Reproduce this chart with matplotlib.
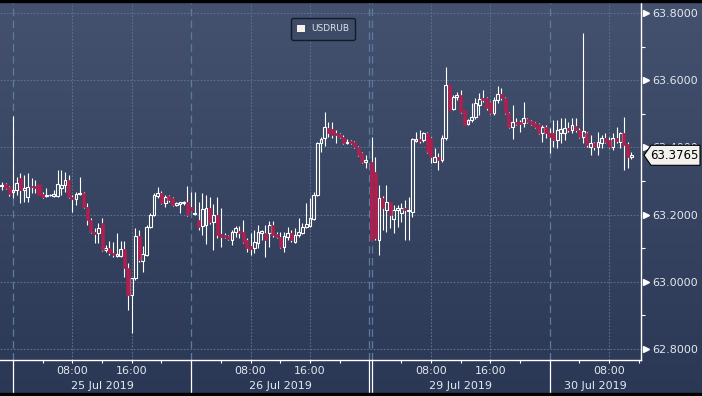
import numpy as np
import pandas as pd
import matplotlib
matplotlib.use("Agg")
import matplotlib.pyplot as plt
from matplotlib.patches import Patch, Polygon, Rectangle
from matplotlib.colors import LinearSegmentedColormap
from matplotlib.transforms import blended_transform_factory

# 30 minute USDRUB bars
session1 = pd.date_range("2019-07-24 22:30", "2019-07-26 23:30", freq="30min")
session2 = pd.date_range("2019-07-29 00:00", "2019-07-30 11:00", freq="30min")

opens = [
    63.285, 63.291, 63.282, 63.267, 63.273, 63.309, 63.273, 63.252, 63.285, 63.285,
    63.291, 63.261, 63.255, 63.257, 63.255, 63.255, 63.279, 63.288, 63.303, 63.252,
    63.246, 63.261, 63.264, 63.223, 63.184, 63.148, 63.145, 63.175, 63.095, 63.101,
    63.086, 63.077, 63.077, 63.098, 63.041, 62.961, 63.011, 63.136, 63.062, 63.080,
    63.163, 63.199, 63.255, 63.264, 63.235, 63.255, 63.249, 63.229, 63.233, 63.235,
    63.238, 63.223, 63.203, 63.184, 63.166, 63.169, 63.220, 63.178, 63.199, 63.142,
    63.139, 63.136, 63.124, 63.148, 63.151, 63.148, 63.124, 63.107, 63.101, 63.116,
    63.145, 63.145, 63.145, 63.169, 63.142, 63.133, 63.104, 63.133, 63.145, 63.119,
    63.139, 63.145, 63.163, 63.166, 63.187, 63.258, 63.413, 63.428, 63.458, 63.455,
    63.443, 63.440, 63.431, 63.413, 63.419, 63.416, 63.401, 63.383, 63.357,
    63.357, 63.327, 63.124, 63.249, 63.214, 63.238, 63.187, 63.214, 63.205, 63.220,
    63.211, 63.208, 63.419, 63.425, 63.422, 63.443, 63.428, 63.357, 63.371, 63.363,
    63.428, 63.586, 63.514, 63.550, 63.556, 63.511, 63.470, 63.482, 63.490, 63.526,
    63.547, 63.547, 63.535, 63.502, 63.541, 63.559, 63.547, 63.502, 63.461, 63.476,
    63.476, 63.473, 63.485, 63.479, 63.473, 63.470, 63.443, 63.461,
    63.443, 63.443, 63.422, 63.443, 63.443, 63.458, 63.452, 63.464, 63.452, 63.431,
    63.443, 63.401, 63.413, 63.401, 63.413, 63.428, 63.422, 63.401, 63.428, 63.416,
    63.443, 63.410, 63.371,
]
highs = [
    63.297, 63.294, 63.285, 63.493, 63.312, 63.324, 63.318, 63.324, 63.309, 63.303,
    63.291, 63.267, 63.279, 63.261, 63.273, 63.333, 63.333, 63.327, 63.318, 63.258,
    63.267, 63.312, 63.267, 63.235, 63.190, 63.160, 63.175, 63.190, 63.110, 63.121,
    63.119, 63.145, 63.121, 63.121, 63.056, 63.011, 63.160, 63.154, 63.107, 63.169,
    63.205, 63.264, 63.282, 63.270, 63.258, 63.258, 63.252, 63.238, 63.238, 63.241,
    63.285, 63.267, 63.267, 63.238, 63.264, 63.258, 63.252, 63.232, 63.252, 63.220,
    63.145, 63.139, 63.154, 63.166, 63.166, 63.184, 63.130, 63.145, 63.154, 63.169,
    63.154, 63.169, 63.181, 63.181, 63.148, 63.148, 63.148, 63.163, 63.154, 63.160,
    63.190, 63.175, 63.235, 63.249, 63.267, 63.416, 63.431, 63.505, 63.476, 63.476,
    63.452, 63.443, 63.437, 63.425, 63.422, 63.419, 63.404, 63.386, 63.377,
    63.431, 63.371, 63.288, 63.255, 63.288, 63.238, 63.229, 63.229, 63.235, 63.244,
    63.252, 63.428, 63.446, 63.452, 63.446, 63.446, 63.431, 63.398, 63.383, 63.437,
    63.639, 63.586, 63.556, 63.565, 63.571, 63.511, 63.485, 63.532, 63.547, 63.562,
    63.571, 63.550, 63.538, 63.550, 63.583, 63.577, 63.550, 63.505, 63.526, 63.487,
    63.482, 63.535, 63.487, 63.482, 63.476, 63.473, 63.467, 63.467,
    63.458, 63.482, 63.482, 63.487, 63.487, 63.476, 63.487, 63.487, 63.458, 63.740,
    63.446, 63.437, 63.416, 63.446, 63.437, 63.443, 63.431, 63.443, 63.461, 63.446,
    63.490, 63.416, 63.386,
]
lows = [
    63.273, 63.276, 63.255, 63.249, 63.258, 63.235, 63.238, 63.238, 63.264, 63.264,
    63.258, 63.249, 63.252, 63.255, 63.252, 63.252, 63.258, 63.267, 63.249, 63.208,
    63.229, 63.258, 63.220, 63.169, 63.145, 63.116, 63.116, 63.092, 63.089, 63.080,
    63.074, 63.074, 63.074, 63.014, 62.916, 62.848, 63.005, 63.059, 63.029, 63.077,
    63.160, 63.196, 63.249, 63.232, 63.223, 63.238, 63.226, 63.226, 63.205, 63.229,
    63.196, 63.214, 63.199, 63.154, 63.139, 63.113, 63.172, 63.095, 63.130, 63.104,
    63.130, 63.124, 63.110, 63.133, 63.130, 63.116, 63.089, 63.080, 63.086, 63.101,
    63.124, 63.074, 63.104, 63.133, 63.130, 63.101, 63.089, 63.124, 63.119, 63.116,
    63.133, 63.142, 63.160, 63.163, 63.184, 63.255, 63.386, 63.404, 63.431, 63.428,
    63.413, 63.428, 63.410, 63.410, 63.410, 63.398, 63.374, 63.354, 63.339,
    63.124, 63.124, 63.080, 63.154, 63.148, 63.160, 63.145, 63.163, 63.178, 63.124,
    63.124, 63.193, 63.416, 63.413, 63.416, 63.383, 63.354, 63.357, 63.333, 63.357,
    63.422, 63.511, 63.511, 63.541, 63.502, 63.467, 63.467, 63.476, 63.485, 63.496,
    63.535, 63.511, 63.499, 63.496, 63.532, 63.541, 63.499, 63.458, 63.425, 63.467,
    63.446, 63.461, 63.473, 63.467, 63.458, 63.440, 63.416, 63.428,
    63.383, 63.401, 63.398, 63.413, 63.422, 63.446, 63.443, 63.446, 63.428, 63.413,
    63.401, 63.377, 63.392, 63.377, 63.398, 63.413, 63.398, 63.392, 63.413, 63.398,
    63.333, 63.339, 63.365,
]
closes = [
    63.288, 63.279, 63.261, 63.273, 63.294, 63.273, 63.279, 63.282, 63.282, 63.279,
    63.258, 63.252, 63.258, 63.259, 63.261, 63.291, 63.288, 63.303, 63.252, 63.246,
    63.261, 63.264, 63.223, 63.184, 63.148, 63.142, 63.160, 63.095, 63.101, 63.086,
    63.080, 63.083, 63.098, 63.041, 62.961, 63.011, 63.136, 63.065, 63.083, 63.163,
    63.199, 63.258, 63.264, 63.235, 63.252, 63.244, 63.229, 63.235, 63.236, 63.238,
    63.199, 63.214, 63.206, 63.163, 63.217, 63.220, 63.178, 63.199, 63.139, 63.133,
    63.133, 63.127, 63.148, 63.160, 63.145, 63.119, 63.101, 63.098, 63.119, 63.148,
    63.150, 63.124, 63.169, 63.139, 63.133, 63.104, 63.136, 63.145, 63.124, 63.139,
    63.148, 63.163, 63.172, 63.190, 63.258, 63.413, 63.425, 63.461, 63.443, 63.437,
    63.437, 63.431, 63.413, 63.416, 63.413, 63.401, 63.377, 63.357, 63.363,
    63.124, 63.130, 63.249, 63.220, 63.238, 63.199, 63.214, 63.220, 63.220, 63.214,
    63.214, 63.425, 63.425, 63.419, 63.443, 63.386, 63.371, 63.371, 63.363, 63.428,
    63.586, 63.511, 63.550, 63.556, 63.505, 63.467, 63.482, 63.490, 63.532, 63.544,
    63.541, 63.517, 63.502, 63.541, 63.559, 63.547, 63.502, 63.461, 63.476, 63.470,
    63.470, 63.487, 63.476, 63.470, 63.461, 63.443, 63.461, 63.443,
    63.431, 63.422, 63.452, 63.455, 63.458, 63.452, 63.467, 63.452, 63.431, 63.449,
    63.407, 63.413, 63.401, 63.416, 63.428, 63.416, 63.401, 63.428, 63.419, 63.443,
    63.407, 63.371, 63.3765,
]

days = ["2019-07-25", "2019-07-26", "2019-07-29", "2019-07-30"]
day_labels = ["25 Jul 2019", "26 Jul 2019", "29 Jul 2019", "30 Jul 2019"]
price_ticks = [62.8, 63.0, 63.2, 63.4, 63.6, 63.8]
ticker = "USDRUB"

ORIGIN = pd.Timestamp("2019-07-25")
WEEKEND_GAP = 47.7   # hours of weekend collapsed out of the axis
BG_TOP, BG_BOTTOM = "#44526f", "#2a3856"
GRID = "#5a7292"
UP, DOWN = "white", "#b01f4e"
TXT = "#e4e8ee"


def to_pos(ts):
    h = (pd.Timestamp(ts) - ORIGIN).total_seconds() / 3600.0
    if pd.Timestamp(ts) >= pd.Timestamp("2019-07-29"):
        h -= WEEKEND_GAP
    return h


times = list(session1) + list(session2)
x = np.array([to_pos(t) for t in times])
o, h, l, c = map(np.array, (opens, highs, lows, closes))

fig = plt.figure(figsize=(7.02, 3.96), dpi=100)
bg = fig.add_axes([0, 0, 1, 1], zorder=0)
cmap = LinearSegmentedColormap.from_list("bg", [BG_BOTTOM, BG_TOP])
bg.imshow(np.linspace(0, 1, 256)[:, None], cmap=cmap, aspect="auto",
          extent=[0, 1, 0, 1], origin="lower")
bg.axis("off")
fig.patches.append(Rectangle((0, 1 - 2 / 396), 1, 2 / 396, transform=fig.transFigure,
                             color="black", zorder=5))
fig.patches.append(Rectangle((0, 0), 1, 3 / 396, transform=fig.transFigure,
                             color="black", zorder=5))

ax = fig.add_axes([0, 36 / 396, 641 / 702, 358 / 396], zorder=1)
ax.set_facecolor("none")
ax.set_xlim(-1.75, 84.6)
ax.set_ylim(62.767, 63.833)

# grid
for p in price_ticks:
    ax.axhline(p, color=GRID, lw=0.8, ls=(0, (1.5, 1.5)), zorder=1)
day_starts = [to_pos(d) for d in days]
for d in day_starts:
    for hh in (8, 16):
        if d + hh < 84.6:
            ax.axvline(d + hh, color=GRID, lw=0.8, ls=(0, (1.5, 1.5)), zorder=1)
sep = [day_starts[0], day_starts[1], 47.95, day_starts[2] + 0.05, day_starts[3]]
for s in sep:
    ax.axvline(s, color="#5d7b9c", lw=0.9, ls=(0, (6, 3.5)), zorder=1)

# candles
up = c >= o
lo = np.minimum(o, c)
hi = np.maximum(o, c)
hi = np.maximum(hi, lo + 0.002)
ax.vlines(x, hi, h, color="white", lw=0.8, zorder=3)
ax.vlines(x, l, lo, color="white", lw=0.8, zorder=3)
ax.bar(x[up], (hi - lo)[up], bottom=lo[up], width=0.38, facecolor="none",
       edgecolor=UP, linewidth=0.8, zorder=4)
ax.bar(x[~up], (hi - lo)[~up], bottom=lo[~up], width=0.42, facecolor=DOWN,
       edgecolor=DOWN, linewidth=0.4, zorder=4)

# axes styling
for side in ("top", "left"):
    ax.spines[side].set_visible(False)
for side in ("bottom", "right"):
    ax.spines[side].set_color("white")
    ax.spines[side].set_linewidth(1.0)

ax.yaxis.tick_right()
ax.set_yticks(price_ticks)
ax.set_yticklabels([f"{p:.4f}" for p in price_ticks])
ax.set_yticks([62.9, 63.1, 63.3, 63.5, 63.7], minor=True)
ax.tick_params(axis="y", which="major", length=0, pad=8, labelsize=8, labelcolor=TXT)
ax.tick_params(axis="y", which="minor", length=3, width=0.8, color="white")
yblend = blended_transform_factory(ax.transAxes, ax.transData)
ax.plot([1 + 4.5 / 641] * len(price_ticks), price_ticks, ls="none", marker=">",
        ms=4, color="white", transform=yblend, clip_on=False, zorder=5)

major_x, major_lab, minor_x = [], [], []
for d in day_starts:
    for hh in (8, 16):
        if d + hh < 84.6:
            major_x.append(d + hh)
            major_lab.append(f"{hh:02d}:00")
    for hh in (4, 12, 20):
        if d + hh < 84.6:
            minor_x.append(d + hh)
ax.set_xticks(major_x)
ax.set_xticklabels(major_lab)
ax.set_xticks(minor_x, minor=True)
ax.tick_params(axis="x", which="both", length=2.5, width=0.8, color="white",
               labelsize=8, labelcolor=TXT, pad=2)

xblend = blended_transform_factory(ax.transData, ax.transAxes)
for s in sep[:2] + [47.95, day_starts[2] + 0.05, day_starts[3]]:
    ax.plot([s, s], [0, -0.096], color="white", lw=0.9, transform=xblend, clip_on=False)
for i, (d, lab) in enumerate(zip(day_starts, day_labels)):
    end = day_starts[i + 1] if i + 1 < len(day_starts) else 84.6
    end = min(d + 24, end)
    ax.text((d + end) / 2, -0.073, lab, transform=xblend, ha="center", va="center",
            fontsize=8, color=TXT)

# legend
ax.legend(handles=[Patch(facecolor="#fbefee", edgecolor="none", label=ticker)],
          loc="upper left", bbox_to_anchor=(0.454, 0.955), borderaxespad=0,
          fontsize=6.5, labelcolor="#dde2ea", facecolor="#3e4b67", edgecolor="#141b28",
          framealpha=1, handlelength=0.9, handleheight=0.9, handletextpad=0.6,
          borderpad=0.7, fancybox=True)

# last price tag
last = closes[-1]
hh_ = 10 * (ax.get_ylim()[1] - ax.get_ylim()[0]) / 358
tip, start, right = 1 + 3 / 641, 1 + 10 / 641, 1 + 59 / 641
tag = Polygon([(tip, last), (start, last + hh_), (right, last + hh_),
               (right, last - hh_), (start, last - hh_)], closed=True,
              transform=yblend, facecolor="#f3f1ee", edgecolor="black", lw=0.8,
              clip_on=False, zorder=6)
ax.add_patch(tag)
ax.text((start + right) / 2 - 1 / 641, last, f"{last:.4f}", transform=yblend,
        ha="center", va="center", fontsize=8.5, color="black", zorder=7)

fig.savefig("out.png", dpi=100)
